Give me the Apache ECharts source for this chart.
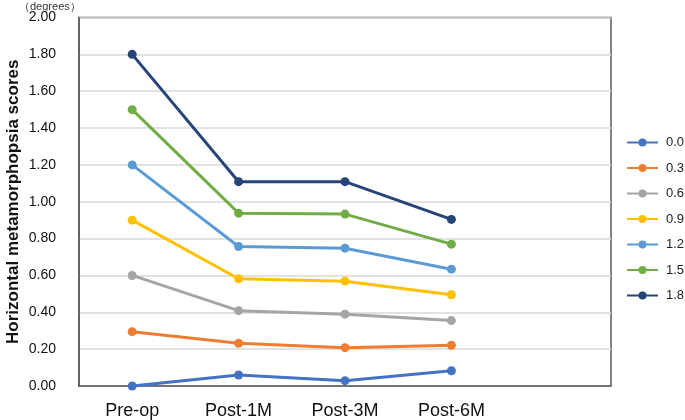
<!DOCTYPE html>
<html><head><meta charset="utf-8">
<script src="https://cdn.jsdelivr.net/npm/echarts@6/dist/echarts.min.js"></script>
<style>html,body{margin:0;padding:0;background:#fff}#c{width:685px;height:420px}</style>
</head><body><div id="c"></div>
<script>
const categories = ['Pre-op', 'Post-1M', 'Post-3M', 'Post-6M', ''];
const seriesNames = ['0.0', '0.3', '0.6', '0.9', '1.2', '1.5', '1.8'];
const s00 = [0.00, 0.06, 0.029, 0.083];
const s03 = [0.295, 0.232, 0.208, 0.221];
const s06 = [0.60, 0.409, 0.39, 0.355];
const s09 = [0.90, 0.582, 0.569, 0.495];
const s12 = [1.20, 0.757, 0.748, 0.634];
const s15 = [1.50, 0.938, 0.933, 0.770];
const s18 = [1.80, 1.109, 1.109, 0.904];
const yTicks = [0, 0.2, 0.4, 0.6, 0.8, 1.0, 1.2, 1.4, 1.6, 1.8, 2.0];
const colors = ['#4472C4', '#ED7D31', '#A5A5A5', '#FFC000', '#5B9BD5', '#70AD47', '#264478'];
const allData = [s00, s03, s06, s09, s12, s15, s18];
const font = 'Liberation Sans, Arial, sans-serif';
const chart = echarts.init(document.getElementById('c'));
chart.setOption({
  animation: false,
  color: colors,
  textStyle: { fontFamily: font },
  title: { text: '\uFF08degrees\uFF09', left: 19, top: 1, padding: 0, textStyle: { fontSize: 11, fontWeight: 'normal', color: '#333', fontFamily: font } },
  grid: { left: 79, top: 17.5, right: 74, bottom: 34, show: true, borderColor: '#595959', borderWidth: 1.5, outerBoundsMode: 'none', containLabel: false },
  legend: {
    orient: 'vertical', left: 621, top: 131, itemWidth: 31, itemHeight: 10, itemGap: 12.5,
    data: seriesNames,
    textStyle: { fontSize: 13, color: '#222', fontFamily: font, padding: [0, 0, 0, 3] }
  },
  xAxis: {
    type: 'category', data: categories, boundaryGap: true,
    axisLine: { show: true, lineStyle: { color: '#595959', width: 1.5 } },
    axisTick: { show: false },
    axisLabel: { fontSize: 18, color: '#111', margin: 16, interval: 0, fontFamily: font },
    splitLine: { show: false }
  },
  yAxis: {
    type: 'value', min: yTicks[0], max: yTicks[yTicks.length - 1], interval: 0.2,
    name: 'Horizontal metamorphopsia scores', nameLocation: 'middle', nameRotate: 90, nameGap: 57,
    nameMoveOverlap: false,
    nameTextStyle: { fontSize: 17, fontWeight: 'bold', color: '#111', fontFamily: font },
    axisLine: { show: true, lineStyle: { color: '#595959', width: 1.5 } },
    axisTick: { show: false },
    axisLabel: { fontSize: 14, color: '#111', margin: 23, formatter: v => v.toFixed(2), fontFamily: font, padding: [0, 0, 6, 0] },
    splitLine: { lineStyle: { color: '#D9D9D9', width: 1.5 } }
  },
  series: seriesNames.map((n, i) => ({
    name: n, type: 'line', data: allData[i], symbol: 'circle', symbolSize: 9,
    lineStyle: { width: 3, color: colors[i] }, itemStyle: { color: colors[i] }
  }))
});
</script></body></html>
